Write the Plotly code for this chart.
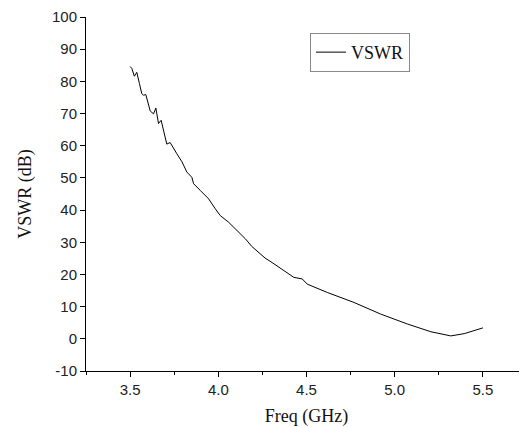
import plotly.graph_objects as go

freq_ghz = [3.500, 3.510, 3.524, 3.538, 3.553, 3.566, 3.576, 3.589, 3.614, 3.633,
            3.646, 3.661, 3.676, 3.708, 3.727, 3.756, 3.765, 3.794, 3.803, 3.822,
            3.850, 3.860, 3.898, 3.945, 3.983, 4.011, 4.059, 4.106, 4.153, 4.190,
            4.229, 4.265, 4.305, 4.371, 4.428, 4.476, 4.504, 4.618, 4.769, 4.920,
            5.072, 5.205, 5.318, 5.394, 5.500]
vswr_db = [84.6, 84.0, 81.6, 82.8, 79.3, 76.2, 75.7, 75.9, 70.8, 69.9,
           71.7, 66.9, 67.9, 60.5, 61.0, 58.0, 57.5, 55.0, 53.9, 51.8,
           50.2, 48.2, 46.1, 43.5, 40.4, 38.3, 36.2, 33.6, 31.1, 28.7,
           26.7, 25.1, 23.7, 21.2, 19.1, 18.6, 17.0, 14.4, 11.3, 7.7,
           4.6, 2.2, 0.9, 1.6, 3.4]

x_ticks = [3.5, 4.0, 4.5, 5.0, 5.5]
x_tick_labels = ["3.5", "4.0", "4.5", "5.0", "5.5"]
y_ticks = [-10, 0, 10, 20, 30, 40, 50, 60, 70, 80, 90, 100]
y_tick_labels = ["-10", "0", "10", "20", "30", "40", "50", "60", "70", "80", "90", "100"]

fig = go.Figure()
fig.add_trace(go.Scatter(x=freq_ghz, y=vswr_db, mode="lines", name="VSWR",
                         line=dict(color="black", width=1)))

tick_font = dict(family="Liberation Sans, Arial, sans-serif", size=15, color="#222")
title_font = dict(family="Liberation Serif, Times New Roman, serif", size=18, color="#111")

fig.update_layout(
    width=519, height=419,
    margin=dict(l=78, r=0, t=9, b=56),
    paper_bgcolor="white", plot_bgcolor="white",
    showlegend=True,
    legend=dict(x=0.508, y=0.955, xanchor="left", yanchor="top",
                bordercolor="#888", borderwidth=1, bgcolor="white",
                tracegroupgap=0, itemwidth=30,
                font=dict(family="Liberation Serif, Times New Roman, serif", size=18, color="#111")),
    xaxis=dict(range=[3.25, 5.75], tickvals=x_ticks, ticktext=x_tick_labels,
               showgrid=False, zeroline=False, showline=True, linecolor="black", linewidth=1,
               ticks="outside", ticklen=5, tickcolor="black", tickfont=tick_font,
               minor=dict(dtick=0.25, tick0=3.25, ticks="outside", ticklen=3, tickcolor="black", showgrid=False),
               title=dict(text="Freq (GHz)", font=title_font, standoff=15)),
    yaxis=dict(range=[-10, 100], tickvals=y_ticks, ticktext=y_tick_labels,
               showgrid=False, zeroline=False, showline=True, linecolor="black", linewidth=1,
               ticks="outside", ticklen=5, tickcolor="black", tickfont=tick_font,
               title=dict(text="VSWR (dB)", font=title_font, standoff=15)),
)

fig.write_html("out.html")
